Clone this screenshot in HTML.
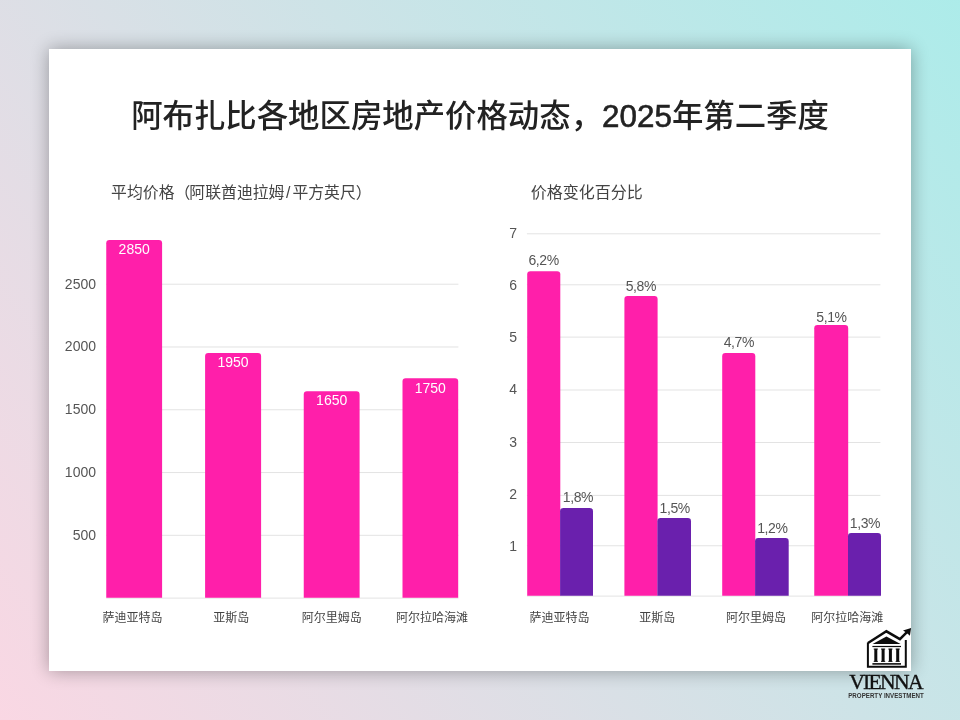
<!DOCTYPE html>
<html lang="zh-CN">
<head>
<meta charset="utf-8">
<title>阿布扎比各地区房地产价格动态，2025年第二季度</title>
<style>
html,body{margin:0;padding:0;}
body{width:960px;height:720px;overflow:hidden;position:relative;
 background:linear-gradient(53deg,#fed6e3 -6%,#a8edea 106%);
 font-family:"Liberation Sans","Noto Sans CJK SC",sans-serif;}
.card{position:absolute;left:49px;top:49px;width:862px;height:622px;background:#fff;
 box-shadow:0 0 17px rgba(0,0,0,0.33);}
.abs{position:absolute;white-space:nowrap;}
.title{left:0;width:960px;top:96.8px;text-align:center;font-size:31.4px;line-height:40px;font-weight:500;color:#222;}
.title .d{font-weight:400;-webkit-text-stroke:0.6px #222;letter-spacing:0px;}
.sub{font-size:16px;line-height:20px;color:#444;}
.ylab{position:absolute;font-size:14px;line-height:16px;color:#555;text-align:right;}
.xlab{position:absolute;font-size:12px;line-height:16px;color:#444;text-align:center;width:120px;}
.vlab{position:absolute;font-size:14px;line-height:16px;text-align:center;width:60px;color:#555;letter-spacing:-0.4px;}
.vin{color:#fff;letter-spacing:0;}
</style>
</head>
<body>
<div class="card"></div>
<svg class="abs" style="left:0;top:0;" width="960" height="720" viewBox="0 0 960 720">
<rect x="106.25" y="534.82" width="352.15" height="1" fill="#e3e3e3"/>
<rect x="106.25" y="472.04" width="352.15" height="1" fill="#e3e3e3"/>
<rect x="106.25" y="409.26" width="352.15" height="1" fill="#e3e3e3"/>
<rect x="106.25" y="346.48" width="352.15" height="1" fill="#e3e3e3"/>
<rect x="106.25" y="283.70" width="352.15" height="1" fill="#e3e3e3"/>
<rect x="106.25" y="597.60" width="352.15" height="1" fill="#e3e3e3"/>
<path d="M106.25 597.80 V243.20 Q106.25 240.00 109.45 240.00 H158.90 Q162.10 240.00 162.10 243.20 V597.80 Z" fill="#ff1faa"/>
<path d="M205.10 597.80 V356.10 Q205.10 352.90 208.30 352.90 H257.90 Q261.10 352.90 261.10 356.10 V597.80 Z" fill="#ff1faa"/>
<path d="M303.75 597.80 V394.40 Q303.75 391.20 306.95 391.20 H356.40 Q359.60 391.20 359.60 394.40 V597.80 Z" fill="#ff1faa"/>
<path d="M402.50 597.80 V381.50 Q402.50 378.30 405.70 378.30 H455.00 Q458.20 378.30 458.20 381.50 V597.80 Z" fill="#ff1faa"/>
<rect x="526.90" y="233.30" width="353.50" height="1" fill="#e3e3e3"/>
<rect x="526.90" y="284.30" width="353.50" height="1" fill="#e3e3e3"/>
<rect x="526.90" y="336.60" width="353.50" height="1" fill="#e3e3e3"/>
<rect x="526.90" y="389.50" width="353.50" height="1" fill="#e3e3e3"/>
<rect x="526.90" y="442.00" width="353.50" height="1" fill="#e3e3e3"/>
<rect x="526.90" y="494.90" width="353.50" height="1" fill="#e3e3e3"/>
<rect x="526.90" y="545.25" width="353.50" height="1" fill="#e3e3e3"/>
<rect x="526.90" y="595.60" width="353.50" height="1" fill="#e3e3e3"/>
<path d="M527.20 595.70 V274.45 Q527.20 271.25 530.40 271.25 H557.10 Q560.30 271.25 560.30 274.45 V595.70 Z" fill="#ff1faa"/>
<path d="M560.10 595.70 V511.30 Q560.10 508.10 563.30 508.10 H589.80 Q593.00 508.10 593.00 511.30 V595.70 Z" fill="#6a20ad"/>
<path d="M624.40 595.70 V299.10 Q624.40 295.90 627.60 295.90 H654.40 Q657.60 295.90 657.60 299.10 V595.70 Z" fill="#ff1faa"/>
<path d="M657.40 595.70 V521.30 Q657.40 518.10 660.60 518.10 H687.80 Q691.00 518.10 691.00 521.30 V595.70 Z" fill="#6a20ad"/>
<path d="M722.20 595.70 V356.30 Q722.20 353.10 725.40 353.10 H752.10 Q755.30 353.10 755.30 356.30 V595.70 Z" fill="#ff1faa"/>
<path d="M755.10 595.70 V541.30 Q755.10 538.10 758.30 538.10 H785.50 Q788.70 538.10 788.70 541.30 V595.70 Z" fill="#6a20ad"/>
<path d="M814.25 595.70 V328.20 Q814.25 325.00 817.45 325.00 H845.00 Q848.20 325.00 848.20 328.20 V595.70 Z" fill="#ff1faa"/>
<path d="M848.00 595.70 V536.30 Q848.00 533.10 851.20 533.10 H877.80 Q881.00 533.10 881.00 536.30 V595.70 Z" fill="#6a20ad"/>
</svg>
<div class="abs title">阿布扎比各地区房地产价格动态，<span class="d">2025</span>年第二季度</div>
<div class="abs sub" style="left:111.1px;top:183.1px;font-size:15.85px;">平均价格<span style="margin-right:-1px">（</span>阿联酋迪拉姆<span style="margin:0 2.1px 0 1.5px">/</span>平方英尺）</div>
<div class="abs sub" style="left:530.7px;top:182.8px;">价格变化百分比</div>

<div class="ylab" style="left:36px;width:60px;top:526.82px;">500</div>
<div class="ylab" style="left:36px;width:60px;top:464.04px;">1000</div>
<div class="ylab" style="left:36px;width:60px;top:401.26px;">1500</div>
<div class="ylab" style="left:36px;width:60px;top:338.48px;">2000</div>
<div class="ylab" style="left:36px;width:60px;top:275.70px;">2500</div>
<div class="vlab vin" style="left:104.18px;top:241.20px;">2850</div>
<div class="xlab" style="left:72.50px;top:609.80px;">萨迪亚特岛</div>
<div class="vlab vin" style="left:203.10px;top:354.10px;">1950</div>
<div class="xlab" style="left:171.30px;top:609.80px;">亚斯岛</div>
<div class="vlab vin" style="left:301.68px;top:392.40px;">1650</div>
<div class="xlab" style="left:271.80px;top:609.80px;">阿尔里姆岛</div>
<div class="vlab vin" style="left:400.35px;top:379.50px;">1750</div>
<div class="xlab" style="left:372.00px;top:609.80px;">阿尔拉哈海滩</div>
<div class="ylab" style="left:457px;width:60px;top:225.00px;">7</div>
<div class="ylab" style="left:457px;width:60px;top:277.16px;">6</div>
<div class="ylab" style="left:457px;width:60px;top:329.32px;">5</div>
<div class="ylab" style="left:457px;width:60px;top:381.48px;">4</div>
<div class="ylab" style="left:457px;width:60px;top:433.64px;">3</div>
<div class="ylab" style="left:457px;width:60px;top:485.80px;">2</div>
<div class="ylab" style="left:457px;width:60px;top:537.96px;">1</div>
<div class="vlab" style="left:513.65px;top:252.00px;">6,2%</div>
<div class="vlab" style="left:547.95px;top:488.60px;">1,8%</div>
<div class="xlab" style="left:499.40px;top:609.80px;">萨迪亚特岛</div>
<div class="vlab" style="left:610.90px;top:277.60px;">5,8%</div>
<div class="vlab" style="left:644.70px;top:499.80px;">1,5%</div>
<div class="xlab" style="left:597.30px;top:609.80px;">亚斯岛</div>
<div class="vlab" style="left:708.85px;top:333.60px;">4,7%</div>
<div class="vlab" style="left:742.40px;top:519.80px;">1,2%</div>
<div class="xlab" style="left:696.00px;top:609.80px;">阿尔里姆岛</div>
<div class="vlab" style="left:801.52px;top:308.60px;">5,1%</div>
<div class="vlab" style="left:835.00px;top:515.40px;">1,3%</div>
<div class="xlab" style="left:787.30px;top:609.80px;">阿尔拉哈海滩</div>

<svg class="abs" style="left:860px;top:620px;" width="60" height="54" viewBox="860 620 60 54">
 <g fill="none" stroke="#0d0d0d" stroke-linejoin="miter">
  <path d="M905.8 640 V666.8 H867.9 V642.4" stroke-width="2"/>
  <path d="M868 643 L886.4 631.3 L899.9 639.1 L907.2 631.8" stroke-width="2.5"/>
 </g>
 <path d="M911.1 628 L903 630.6 L906.3 632.6 L909.9 635.8 Z" fill="#0d0d0d"/>
 <path d="M872.6 643.9 L886.4 636.6 L900.6 643.9 Z" fill="#0d0d0d"/>
 <rect x="872.4" y="645.9" width="28.6" height="1.2" fill="#0d0d0d"/>
 <g fill="#0d0d0d">
  <rect x="874.3" y="648.8" width="3" height="12.8"/>
  <rect x="881.6" y="648.8" width="3" height="12.8"/>
  <rect x="888.9" y="648.8" width="3" height="12.8"/>
  <rect x="896.2" y="648.8" width="3" height="12.8"/>
  <rect x="873.7" y="648.6" width="4.2" height="0.9"/>
  <rect x="881" y="648.6" width="4.2" height="0.9"/>
  <rect x="888.3" y="648.6" width="4.2" height="0.9"/>
  <rect x="895.6" y="648.6" width="4.2" height="0.9"/>
  <rect x="873.7" y="660.9" width="4.2" height="0.9"/>
  <rect x="881" y="660.9" width="4.2" height="0.9"/>
  <rect x="888.3" y="660.9" width="4.2" height="0.9"/>
  <rect x="895.6" y="660.9" width="4.2" height="0.9"/>
 </g>
 <rect x="872.4" y="663.1" width="28.6" height="1.6" fill="#0d0d0d"/>
</svg>
<div class="abs" style="left:835.5px;width:100px;top:669.9px;text-align:center;font-family:'Liberation Serif',serif;font-size:21.6px;line-height:24px;color:#111;letter-spacing:-1.68px;-webkit-text-stroke:0.35px #111;">VIENNA</div>
<div class="abs" style="left:836px;width:100px;top:691.2px;text-align:center;font-size:6.7px;line-height:9px;font-weight:700;color:#333;transform:scaleX(0.925);transform-origin:50% 50%;">PROPERTY INVESTMENT</div>
</body>
</html>
